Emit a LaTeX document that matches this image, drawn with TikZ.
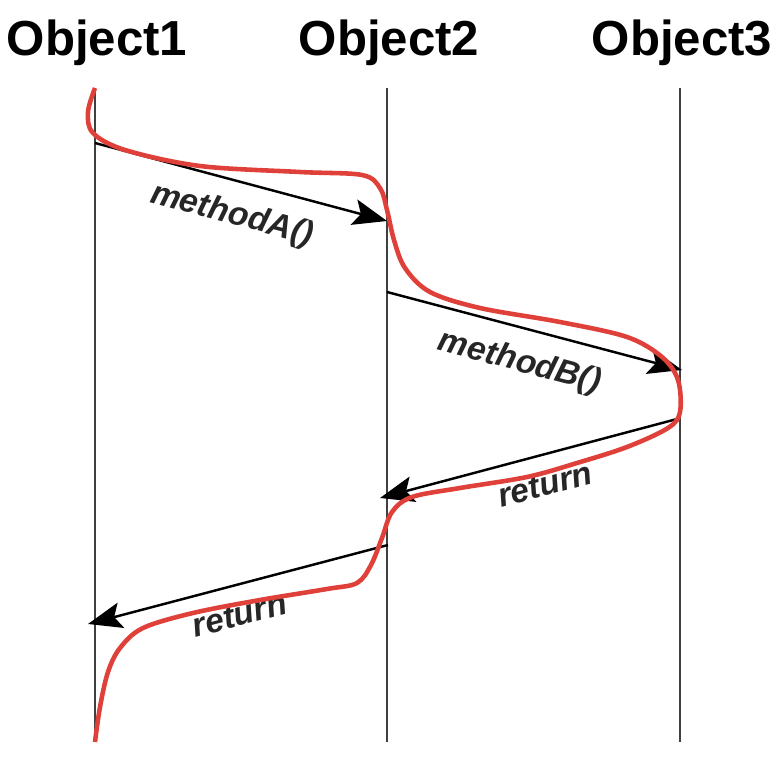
\documentclass[tikz,border=0pt]{standalone}
\usepackage{fontspec}
\setmainfont{Liberation Sans}
\usetikzlibrary{arrows.meta}
\definecolor{flowred}{RGB}{224,64,58}
\begin{document}
\begin{tikzpicture}[
			lifeline/.style={draw=black!75, line width=0.8pt},
			msg/.style={
				draw=black,
				line width=0.7pt,
				-{Stealth[length=0.34cm, width=0.26cm, inset=0.07cm]}},
			msglabel/.style={
				font=\fontsize{9.5}{11}\selectfont\bfseries\itshape,
				text=black!85,
				sloped,
				below,
				inner sep=5pt},
			title/.style={font=\fontsize{14}{16}\selectfont\bfseries, anchor=base},
			flow/.style={draw=flowred, line width=1.3pt}]
			\useasboundingbox (0, 0) rectangle (7.84, 7.64);
			\foreach \n/\x in {1/0.95, 2/3.87, 3/6.80}
			{
				\node[title] (obj\n) at (\x+0.02, 7.09) {Object\n};
				\coordinate (top\n) at (\x, 6.76);
				\coordinate (bot\n) at (\x, 0.22);
				\draw[lifeline] (top\n) -- (bot\n);
			}
			\coordinate (callA) at (0.95, 6.21);
			\coordinate (recvA) at (3.87, 5.43);
			\coordinate (callB) at (3.87, 4.72);
			\coordinate (recvB) at (6.82, 3.94);
			\coordinate (retB) at (6.77, 3.45);
			\coordinate (backB) at (3.80, 2.66);
			\coordinate (retA) at (3.88, 2.19);
			\coordinate (backA) at (0.88, 1.40);
			\draw[msg] (callA) -- node[msglabel, pos=0.5] {methodA()} (recvA);
			\draw[msg] (callB) -- node[msglabel, pos=0.48] {methodB()} (recvB);
			\draw[msg] (retB) -- node[msglabel, pos=0.47] {return} (backB);
			\draw[msg] (retA) -- node[msglabel, pos=0.52] {return} (backA);
			\draw[flow] plot[smooth, tension=0.55] coordinates {
				(0.95, 6.76) (0.88, 6.52) (0.93, 6.31) (1.25, 6.14) (2.00, 5.98)
				(3.00, 5.92) (3.62, 5.89) (3.80, 5.76) (3.87, 5.54) (3.94, 5.24)
				(4.05, 4.96) (4.30, 4.72) (4.80, 4.56) (5.60, 4.42) (6.27, 4.27)
				(6.62, 4.07) (6.78, 3.84) (6.80, 3.52) (6.68, 3.36) (6.27, 3.17)
				(5.77, 3.01) (5.27, 2.87) (4.60, 2.76) (4.12, 2.67) (3.92, 2.52)
				(3.82, 2.26) (3.71, 1.99) (3.57, 1.81) (3.27, 1.75) (2.60, 1.64)
				(1.93, 1.51) (1.43, 1.36) (1.20, 1.16) (1.08, 0.92) (1.00, 0.57)
				(0.95, 0.22)};
\end{tikzpicture}
\end{document}
